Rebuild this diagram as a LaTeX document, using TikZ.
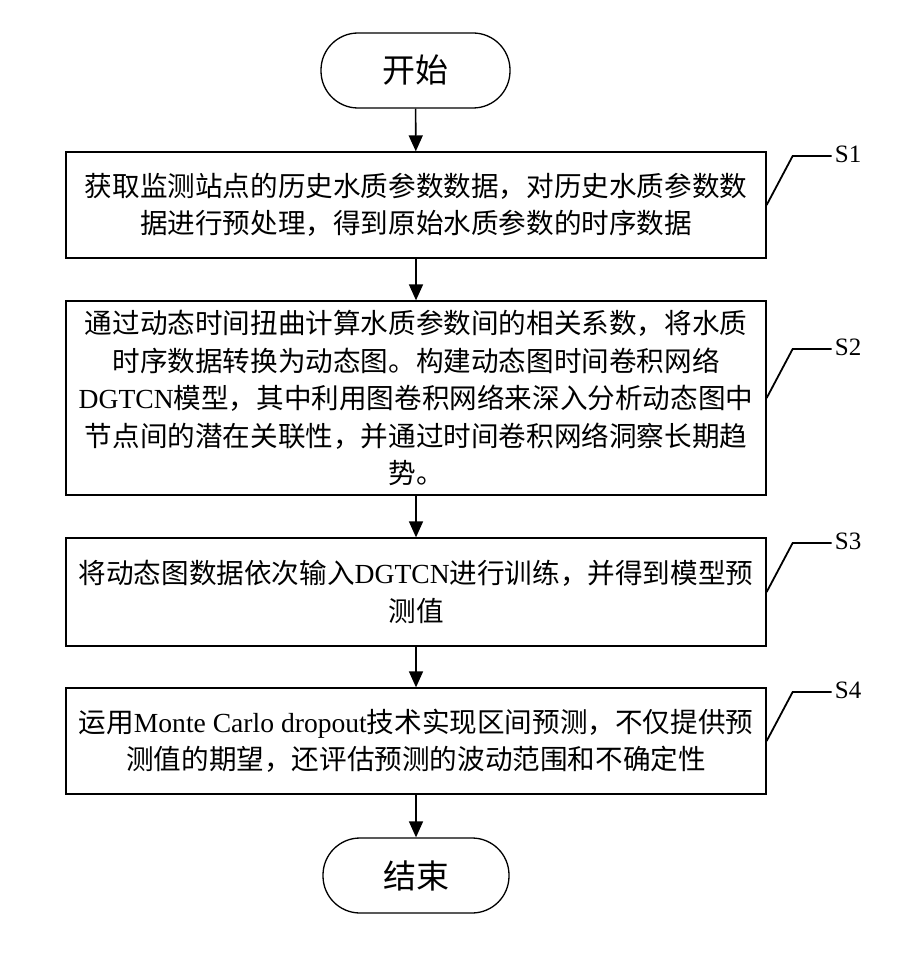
\documentclass[tikz,border=0pt]{standalone}
\usepackage{fontspec}
\setmainfont{Liberation Serif}
\newfontfamily\cjk{Noto Sans CJK SC}
\usetikzlibrary{arrows.meta,calc}
\newcommand\mylat[1]{{\rmfamily #1}}
\begin{document}
\begin{tikzpicture}[x=1pt,y=-1pt,
  term/.style={draw,line width=1.3pt,rounded corners=37pt,minimum height=75pt,inner sep=0pt,
    font=\cjk\fontsize{33}{40}\selectfont},
  stepbox/.style={draw,line width=1.3pt,minimum width=700pt,inner sep=0pt,align=center,
    font=\cjk\fontsize{27.6}{37.5}\selectfont},
  flow/.style={line width=1.6pt,-{Triangle[length=16pt,width=14pt]}},
  leader/.style={line width=1.8pt},
  slabel/.style={inner sep=3pt,font=\rmfamily\fontsize{25}{28}\selectfont}]
\useasboundingbox (0,0) rectangle (907,955);
\node[term,minimum width=189pt] (start) at (415.5,70.5) {开始};
\node[stepbox,minimum height=106pt] (b1) at (416,205) {获取监测站点的历史水质参数数据，对历史水质参数数\\据进行预处理，得到原始水质参数的时序数据};
\node[stepbox,minimum height=194pt] (b2) at (416,398) {通过动态时间扭曲计算水质参数间的相关系数，将水质\\时序数据转换为动态图。构建动态图时间卷积网络\\\mylat{DGTCN}模型，其中利用图卷积网络来深入分析动态图中\\节点间的潜在关联性，并通过时间卷积网络洞察长期趋\\势。};
\node[stepbox,minimum height=108pt] (b3) at (416,592) {将动态图数据依次输入\mylat{DGTCN}进行训练，并得到模型预\\测值};
\node[stepbox,minimum height=106pt] (b4) at (416,741) {运用\mylat{Monte Carlo dropout}技术实现区间预测，不仅提供预\\测值的期望，还评估预测的波动范围和不确定性};
\node[term,minimum width=186pt] (end) at (416,875.5) {结束};
\draw[flow] (start) -- (b1);
\draw[flow] (b1) -- (b2);
\draw[flow] (b2) -- (b3);
\draw[flow] (b3) -- (b4);
\draw[flow] (b4) -- (end);
\foreach \b/\s in {b1/S1,b2/S2,b3/S3,b4/S4}{
  \coordinate (k\b) at ($(\b.east)+(26,-49)$);
  \node[slabel,anchor=west] (l\b) at ($(k\b)+(39,-2)$) {\s};
  \draw[leader] (\b.east) -- (k\b) -- (l\b.west |- k\b);
}
\end{tikzpicture}
\end{document}
